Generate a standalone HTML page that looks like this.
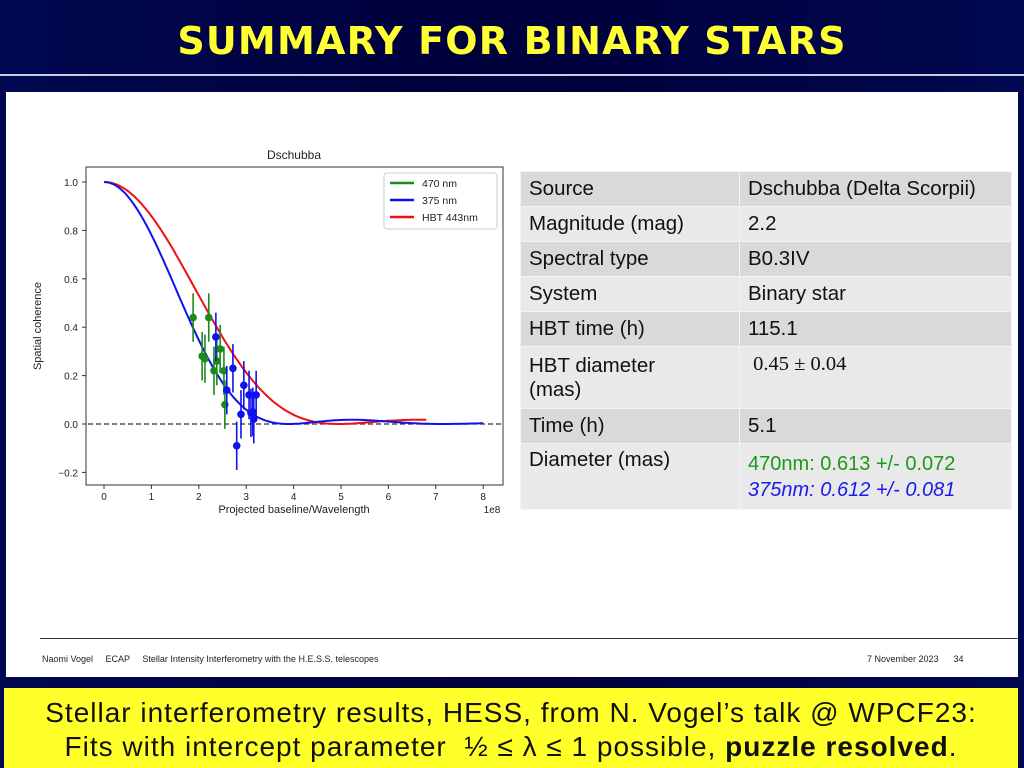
<!DOCTYPE html>
<html><head><meta charset="utf-8"><style>
body{margin:0;width:1024px;height:768px;overflow:hidden;background:linear-gradient(90deg,#000850 0%,#00003a 50%,#000850 100%);font-family:"Liberation Sans",sans-serif;position:relative}
.title{position:absolute;top:19px;left:0;width:1024px;text-align:center;color:#ffff33;font-weight:bold;font-size:38px;font-family:"DejaVu Sans",sans-serif;letter-spacing:1.2px}
.rule{position:absolute;top:74px;left:0;width:1024px;height:2px;background:#c8c8e8}
.panel{position:absolute;left:6px;top:92px;width:1012px;height:585px;background:#fff}
table{position:absolute;left:514px;top:79px;border-collapse:collapse;font-size:20.5px;color:#111}
td{padding:0 8px;height:34px;border:1px solid #f4f4f4;vertical-align:middle}
tr:nth-child(odd) td{background:#d9d9d9}tr:nth-child(even) td{background:#e9e9e9}
.foot{position:absolute;top:562px;font-size:9px;color:#222}
.box{position:absolute;left:4px;top:688px;width:1014px;height:80px;background:#ffff2a;font-size:28px;letter-spacing:1px;text-align:center;line-height:34px;color:#111;padding-top:8px;box-sizing:border-box;white-space:nowrap}
</style></head><body>
<div class="title">SUMMARY FOR BINARY STARS</div>
<div class="rule"></div>
<div class="panel">
<svg id="chart" width="510" height="440" style="position:absolute;left:0;top:0"></svg>
<table>
<tr><td style="width:202px">Source</td><td style="width:255px">Dschubba (Delta Scorpii)</td></tr>
<tr><td>Magnitude (mag)</td><td>2.2</td></tr>
<tr><td>Spectral type</td><td>B0.3IV</td></tr>
<tr><td>System</td><td>Binary star</td></tr>
<tr><td>HBT time (h)</td><td>115.1</td></tr>
<tr><td style="height:61px">HBT diameter<br>(mas)</td><td style="font-family:'Liberation Serif',serif;vertical-align:top;padding-top:6px">&nbsp;0.45 ± 0.04</td></tr>
<tr><td>Time (h)</td><td>5.1</td></tr>
<tr><td style="height:61px;vertical-align:top;padding-top:4px">Diameter (mas)</td><td style="font-size:20px;line-height:26px"><span style="color:#1a9a1a">470nm: 0.613 +/- 0.072</span><br><i style="color:#1a1aee">375nm: 0.612 +/- 0.081</i></td></tr>
</table>
<div style="position:absolute;left:34px;top:546px;width:978px;height:1px;background:#334"></div>
<div class="foot" style="left:36px">Naomi Vogel &nbsp;&nbsp;&nbsp; ECAP &nbsp;&nbsp;&nbsp; Stellar Intensity Interferometry with the H.E.S.S. telescopes</div>
<div class="foot" style="left:861px">7 November 2023 &nbsp;&nbsp;&nbsp;&nbsp; 34</div>
</div>
<div class="box">Stellar interferometry results, HESS, from N. Vogel’s talk @ WPCF23:<br>Fits with intercept parameter &nbsp;½ ≤ λ ≤ 1 possible, <b>puzzle resolved</b>.</div>
<script>
const xTicks=[0,1,2,3,4,5,6,7,8];
const yTicks=[-0.2,0,0.2,0.4,0.6,0.8,1.0];
const greenX=[1.88,2.21,2.07,2.13,2.45,2.38,2.32,2.53,2.55];
const greenY=[0.44,0.44,0.28,0.27,0.31,0.26,0.22,0.22,0.08];
const blueX=[2.36,2.72,2.59,2.95,2.89,2.80,3.06,3.21,3.14,3.10,3.16];
const blueY=[0.36,0.23,0.14,0.16,0.04,-0.09,0.12,0.12,0.05,0.046,0.02];
const errBar=0.1;
const blueZero=3.9, redZero=4.95;
const blueEnd=8, redEnd=6.8;
const NS="http://www.w3.org/2000/svg";
const svg=document.getElementById('chart');
const X=v=>98+v*47.4, Y=v=>332-v*242;
function el(t,a,p){const e=document.createElementNS(NS,t);for(const k in a)e.setAttribute(k,a[k]);(p||svg).appendChild(e);return e;}
function J1(x){let s=0,t=x/2;for(let k=0;k<30;k++){s+=t;t*=-(x*x/4)/((k+1)*(k+2));}return s;}
function vis(b,z){const x=3.8317*b/z;if(x<1e-6)return 1;const v=2*J1(x)/x;return v*v;}
let f=el('rect',{x:80,y:75,width:417,height:318,fill:'none',stroke:'#333','stroke-width':1});


let t=el('text',{x:288,y:67,'font-size':12,'text-anchor':'middle',fill:'#222'});t.textContent='Dschubba';


xTicks.forEach(v=>{el('line',{x1:X(v),x2:X(v),y1:393,y2:397,stroke:'#333'});let l=el('text',{x:X(v),y:408,'font-size':10,'text-anchor':'middle',fill:'#222'});l.textContent=v;

});
yTicks.forEach(v=>{el('line',{x1:76,x2:80,y1:Y(v),y2:Y(v),stroke:'#333'});let l=el('text',{x:72,y:Y(v)+4,'font-size':10,'text-anchor':'end',fill:'#222'});l.textContent=(v<0?'−':'')+Math.abs(v).toFixed(1);

});
let xl=el('text',{x:288,y:421,'font-size':11,'text-anchor':'middle',fill:'#222'});xl.textContent='Projected baseline/Wavelength';


let xe=el('text',{x:486,y:421,'font-size':10,'text-anchor':'middle',fill:'#222'});xe.textContent='1e8';


let yl=el('text',{x:0,y:0,'font-size':11,'text-anchor':'middle',fill:'#222',transform:'translate(35,234) rotate(-90)'});yl.textContent='Spatial coherence';


let zl=el('line',{x1:82,x2:495,y1:Y(0),y2:Y(0),stroke:'#333','stroke-dasharray':'5,3','stroke-width':1.3});


function curve(z,end,col,name){let d='';for(let b=0;b<=end+1e-9;b+=0.04)d+=(d?'L':'M')+X(b).toFixed(1)+','+Y(vis(b,z)).toFixed(1);const p=el('path',{d:d,fill:'none',stroke:col,'stroke-width':2});

}
curve(redZero,redEnd,'#ee1111','hbt-fit-curve');
curve(blueZero,blueEnd,'#1111ee','blue-fit-curve');
function pts(xs,ys,col,name){xs.forEach((x,i)=>{el('line',{x1:X(x),x2:X(x),y1:Y(ys[i]+errBar),y2:Y(ys[i]-errBar),stroke:col,'stroke-width':1.6});const c=el('circle',{cx:X(x),cy:Y(ys[i]),r:3.8,fill:col});

});}
pts(greenX,greenY,'#1a8a1a','green-point');
pts(blueX,blueY,'#1111ee','blue-point');
const lg=el('g',{});


el('rect',{x:378,y:81,width:113,height:56,fill:'#fff',stroke:'#ccc',rx:3},lg);
[['470 nm','#1a8a1a'],['375 nm','#1111ee'],['HBT 443nm','#ee1111']].forEach((e,i)=>{const y=91+i*17;el('line',{x1:384,x2:408,y1:y,y2:y,stroke:e[1],'stroke-width':2.5},lg);const tx=el('text',{x:416,y:y+4,'font-size':10.5,fill:'#222'},lg);tx.textContent=e[0];

});
</script>
</body></html>
